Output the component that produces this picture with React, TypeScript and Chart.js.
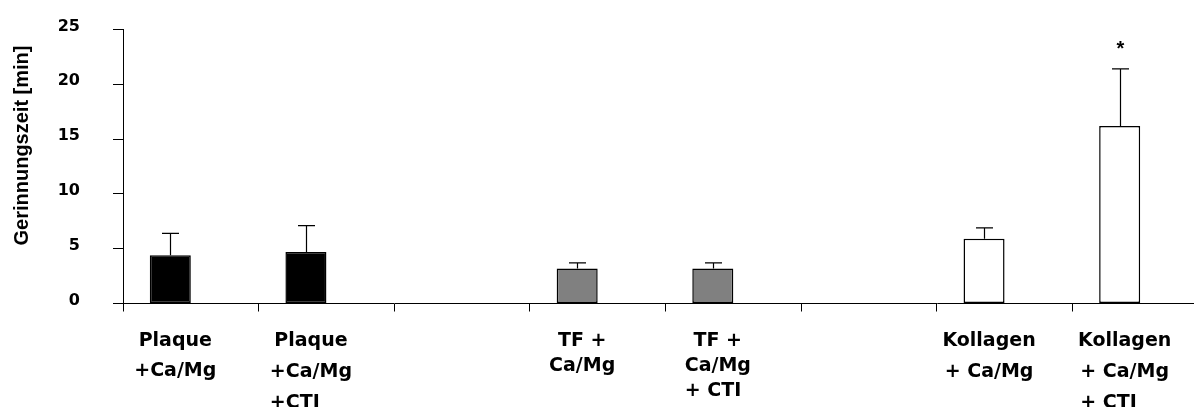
import { useEffect, useRef } from "react";
import { Chart, registerables } from "chart.js";

Chart.register(...registerables);

// Clotting time per preparation (mean and standard deviation, minutes).
const categories = [
  "Plaque +Ca/Mg",
  "Plaque +Ca/Mg +CTI",
  "",
  "TF + Ca/Mg",
  "TF + Ca/Mg + CTI",
  "",
  "Kollagen + Ca/Mg",
  "Kollagen + Ca/Mg + CTI",
];
const categoryLines: string[][] = [
  ["Plaque", "+Ca/Mg"],
  ["Plaque", "+Ca/Mg", "+CTI"],
  [],
  ["TF +", "Ca/Mg"],
  ["TF +", "Ca/Mg", "+ CTI"],
  [],
  ["Kollagen", "+ Ca/Mg"],
  ["Kollagen", "+ Ca/Mg", "+ CTI"],
];
const meanMinutes = [4.4, 4.7, null, 3.2, 3.2, null, 5.9, 16.2];
const sdMinutes = [2.0, 2.4, null, 0.5, 0.5, null, 1.0, 5.2];
const significance = ["", "", "", "", "", "", "", "*"];
const yTicks = [0, 5, 10, 15, 20, 25];
const yAxisTitle = "Gerinnungszeit [min]";

// Styling
const barColors = ["#000000", "#000000", "#ffffff", "#808080", "#808080", "#ffffff", "#ffffff", "#ffffff"];
const labelLeading = [30, 31, 0, 25, 25, 0, 31, 31];
const TICK_FONT = '"DejaVu Sans", sans-serif';
const TITLE_FONT = '"Liberation Sans", Arial, sans-serif';
const CANVAS_W = 1208;
const CANVAS_H = 420;
const AXIS_LEFT = 123;
const PLOT_TOP = 29.5;
const PLOT_BOTTOM = 303.5;

const annotations = {
  id: "annotations",
  afterDatasetsDraw(chart: any) {
    const { ctx } = chart;
    const y = chart.scales.y;
    const meta = chart.getDatasetMeta(0);
    ctx.save();
    ctx.strokeStyle = "#000";
    ctx.lineWidth = 1.2;
    meta.data.forEach((bar: any, i: number) => {
      const m = meanMinutes[i];
      const s = sdMinutes[i];
      if (m == null || s == null) return;
      const top = y.getPixelForValue(m + s);
      const x = Math.round(bar.x) + 0.5;
      ctx.beginPath();
      ctx.moveTo(x, bar.y);
      ctx.lineTo(x, top);
      ctx.moveTo(x - 8.5, top);
      ctx.lineTo(x + 8.5, top);
      ctx.stroke();
      if (significance[i]) {
        ctx.fillStyle = "#000";
        ctx.font = `bold 20px ${TITLE_FONT}`;
        ctx.textAlign = "center";
        ctx.textBaseline = "alphabetic";
        ctx.fillText(significance[i], x, top - 13.5);
      }
    });
    ctx.restore();
  },
  afterDraw(chart: any) {
    const { ctx, chartArea } = chart;
    const meta = chart.getDatasetMeta(0);
    const axisY = chart.scales.x.top;
    ctx.save();
    ctx.fillStyle = "#000";
    ctx.font = `bold 19px ${TICK_FONT}`;
    ctx.textBaseline = "alphabetic";
    meta.data.forEach((bar: any, i: number) => {
      const lines = categoryLines[i];
      if (!lines || !lines.length) return;
      const cx = bar.x + 5;
      const w2 = lines[1] ? ctx.measureText(lines[1]).width : 0;
      const left2 = cx - w2 / 2;
      lines.forEach((t, k) => {
        const yb = axisY + 42 + k * labelLeading[i];
        if (k < 2) {
          ctx.textAlign = "center";
          ctx.fillText(t, cx, yb);
        } else {
          ctx.textAlign = "left";
          ctx.fillText(t, left2, yb);
        }
      });
    });

    // Rotated y-axis title
    ctx.translate(22.8, chartArea.top + 116);
    ctx.rotate(-Math.PI / 2);
    ctx.font = `bold 20px ${TITLE_FONT}`;
    ctx.textAlign = "center";
    ctx.textBaseline = "middle";
    ctx.fillText(yAxisTitle, 0, 0);
    ctx.restore();
  },
};

export default function App() {
  const canvasRef = useRef<HTMLCanvasElement | null>(null);

  useEffect(() => {
    const canvas = canvasRef.current;
    if (!canvas) return;
    const chart = new Chart(canvas, {
      type: "bar",
      data: {
        labels: categories,
        datasets: [
          {
            label: "Gerinnungszeit",
            data: meanMinutes,
            backgroundColor: barColors,
            borderColor: "#000",
            borderWidth: 1.5,
            borderSkipped: false,
            categoryPercentage: 0.605,
            barPercentage: 1,
          },
          {
            label: "",
            data: meanMinutes.map(() => null),
            categoryPercentage: 0.605,
            barPercentage: 1,
          },
        ],
      },
      options: {
        responsive: false,
        animation: false,
        layout: { padding: { top: PLOT_TOP, left: 0, right: 0, bottom: 0 } },
        plugins: {
          legend: { display: false },
          tooltip: { enabled: false },
        },
        scales: {
          x: {
            type: "category",
            offset: true,
            grid: {
              offset: true,
              drawOnChartArea: false,
              drawTicks: true,
              tickLength: 8,
              color: "#000",
              lineWidth: 1,
            },
            border: { display: true, color: "#000", width: 1 },
            ticks: { display: false },
            afterFit: (scale: any) => {
              scale.height = CANVAS_H - PLOT_BOTTOM;
              scale.paddingLeft = 0;
              scale.paddingRight = 0;
            },
          },
          y: {
            min: 0,
            max: 25,
            afterBuildTicks: (scale: any) => {
              scale.ticks = yTicks.map((v) => ({ value: v }));
            },
            grid: {
              drawOnChartArea: false,
              drawTicks: true,
              tickLength: 10,
              color: "#000",
              lineWidth: 1,
            },
            border: { display: true, color: "#000", width: 1 },
            ticks: {
              color: "#000",
              font: { family: TICK_FONT, size: 16, weight: "bold" },
              padding: 33,
              labelOffset: -3,
            },
            afterFit: (scale: any) => {
              scale.width = AXIS_LEFT;
              scale.paddingTop = 0;
              scale.paddingBottom = 0;
            },
          },
        },
      },
      plugins: [annotations],
    });
    return () => chart.destroy();
  }, []);

  return (
    <div
      style={{
        position: "fixed",
        left: 0,
        top: 0,
        width: "1194px",
        height: "407px",
        overflow: "hidden",
        background: "#fff",
      }}
    >
      <canvas
        ref={canvasRef}
        width={CANVAS_W}
        height={CANVAS_H}
        style={{ position: "absolute", left: 0, top: 0, width: CANVAS_W + "px", height: CANVAS_H + "px" }}
      />
    </div>
  );
}
